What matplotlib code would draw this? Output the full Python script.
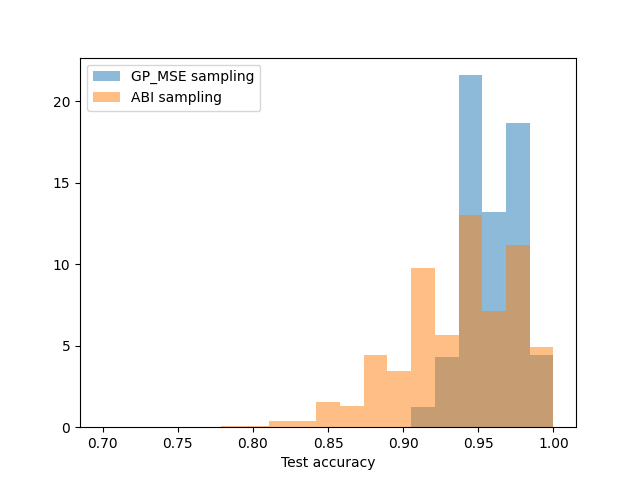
import matplotlib
matplotlib.use('Agg')
import numpy as np
import matplotlib.pyplot as plt

# bin edges: 19 equal bins between 0.7 and 1.0
bin_lo = 0.7
bin_hi = 1.0
n_bins = 19

# density per bin
gp_mse_density = [0, 0, 0, 0, 0, 0, 0, 0, 0, 0, 0, 0, 0,
                  1.23, 4.31, 21.6, 13.19, 18.67, 4.44]
abi_density = [0, 0, 0, 0, 0, 0.07, 0.07, 0.35, 0.35, 1.53, 1.31, 4.42, 3.45,
               9.75, 5.64, 13.02, 7.13, 11.16, 4.93]

edges = np.linspace(bin_lo, bin_hi, n_bins + 1)
centers = (edges[:-1] + edges[1:]) / 2

fig, ax = plt.subplots(figsize=(6.4, 4.8), dpi=100)
ax.hist(centers, bins=edges, weights=gp_mse_density, alpha=0.5, label="GP_MSE sampling")
ax.hist(centers, bins=edges, weights=abi_density, alpha=0.5, label="ABI sampling")
ax.set_xlabel("Test accuracy")
ax.legend(loc="upper left")

fig.savefig("out.png")
